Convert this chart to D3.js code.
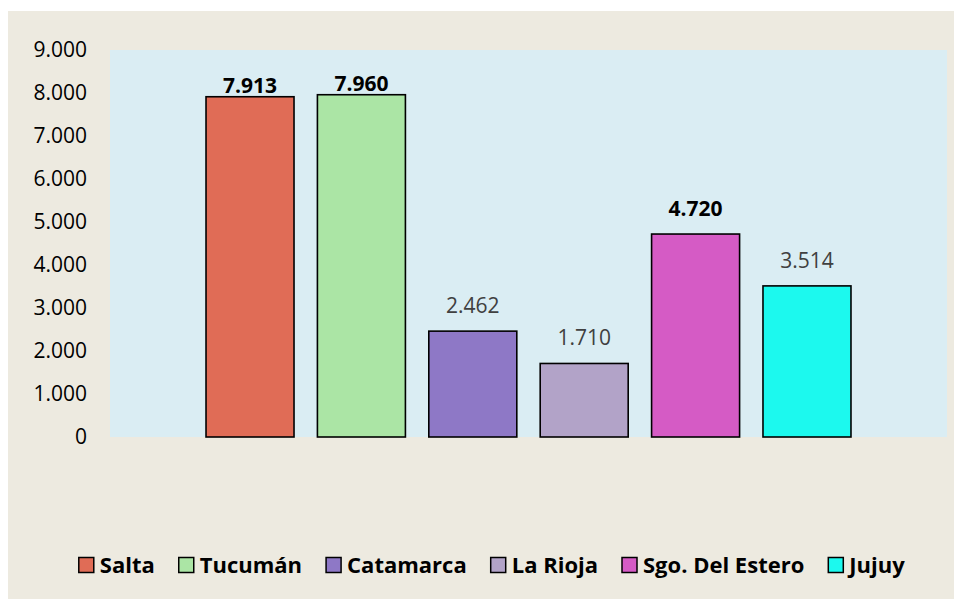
<!DOCTYPE html>
<html>
<head>
<meta charset="utf-8">
<script src="https://cdn.jsdelivr.net/npm/d3@7"></script>
<style>
  body { margin: 0; background: #fff; }
  svg { display: block; font-family: "Open Sans", sans-serif; }
</style>
</head>
<body>
<div id="chart"></div>
<script>
// data
var provinces = ["Salta", "Tucumán", "Catamarca", "La Rioja", "Sgo. Del Estero", "Jujuy"];
var values = [7913, 7960, 2462, 1710, 4720, 3514];
var yTicks = [0, 1000, 2000, 3000, 4000, 5000, 6000, 7000, 8000, 9000];

// styles
var colors = ["#E06C56", "#ABE5A5", "#8E78C6", "#B2A3C8", "#D55BC5", "#1CF9EE"];
var boldLabel = [true, true, false, false, true, false];

var width = 954, height = 599;
var plot = { left: 110, right: 947, top: 50, bottom: 437 };

var loc = d3.formatLocale({ decimal: ",", thousands: ".", grouping: [3], currency: ["$", ""] });
var fmt = loc.format(",d");

var svg = d3.select("#chart").append("svg")
    .attr("width", width)
    .attr("height", height);

svg.append("rect")
    .attr("x", 8).attr("y", 11)
    .attr("width", width - 8).attr("height", height - 11)
    .attr("fill", "#EDEAE0");

svg.append("rect")
    .attr("x", plot.left).attr("y", plot.top)
    .attr("width", plot.right - plot.left).attr("height", plot.bottom - plot.top)
    .attr("fill", "#DAEDF3");

var y = d3.scaleLinear().domain([0, 9000]).range([plot.bottom, plot.top]);

var x = d3.scaleBand()
    .domain(provinces)
    .range([plot.left, plot.right])
    .paddingInner(0.21)
    .paddingOuter(0.862);

// y axis labels (no line, no tick marks)
var yAxis = d3.axisLeft(y).tickValues(yTicks).tickFormat(fmt).tickSize(0).tickPadding(0);
var ga = svg.append("g")
    .attr("transform", "translate(87,0)")
    .call(yAxis);
ga.select(".domain").remove();
ga.selectAll("text")
    .attr("font-family", "Open Sans, sans-serif")
    .attr("font-size", 21)
    .attr("fill", "#000");

// bars
svg.append("g").selectAll("rect")
    .data(values)
    .enter().append("rect")
    .attr("x", function(d, i) { return x(provinces[i]); })
    .attr("y", function(d) { return y(d); })
    .attr("width", x.bandwidth())
    .attr("height", function(d) { return y(0) - y(d); })
    .attr("fill", function(d, i) { return colors[i]; })
    .attr("stroke", "#000")
    .attr("stroke-width", 1.6);

// value labels
svg.append("g").selectAll("text")
    .data(values)
    .enter().append("text")
    .attr("x", function(d, i) { return x(provinces[i]) + x.bandwidth() / 2; })
    .attr("y", function(d) {
      var base = y(d) - 18;
      // labels that would hit the top of the plot get pushed down onto the bar
      if (base - 15 < plot.top + 30) base = y(d) - 4;
      return base;
    })
    .attr("text-anchor", "middle")
    .attr("font-size", 21)
    .attr("font-weight", function(d, i) { return boldLabel[i] ? "bold" : "normal"; })
    .attr("fill", function(d, i) { return boldLabel[i] ? "#000" : "#404040"; })
    .text(function(d) { return fmt(d); });

// legend
var legend = svg.append("g").attr("transform", "translate(0,565)");
var items = legend.selectAll("g")
    .data(provinces)
    .enter().append("g");

items.append("rect")
    .attr("y", -7.5)
    .attr("width", 15).attr("height", 15)
    .attr("fill", function(d, i) { return colors[i]; })
    .attr("stroke", "#000")
    .attr("stroke-width", 1.5);

items.append("text")
    .attr("x", 21)
    .attr("dy", "0.36em")
    .attr("font-size", 22)
    .attr("font-weight", "bold")
    .attr("fill", "#000")
    .text(function(d) { return d; });

var offs = [], pos = 0;
items.each(function() {
  var w = this.getBBox().width;
  offs.push(pos);
  pos += w + 24;
});
var total = pos - 24;
var start = 492 - total / 2;
items.attr("transform", function(d, i) { return "translate(" + (start + offs[i]) + ",0)"; });
</script>
</body>
</html>
